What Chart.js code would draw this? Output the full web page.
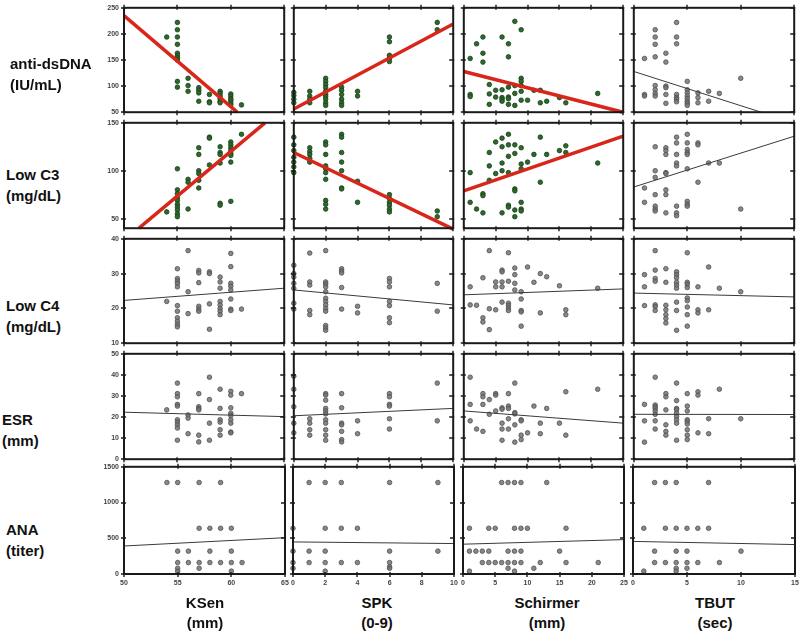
<!DOCTYPE html>
<html>
<head>
<meta charset="utf-8">
<script src="https://cdn.jsdelivr.net/npm/chart.js@4"></script>
<style>
  body { margin: 0; background: #fff; }
  #wrap { position: relative; width: 800px; height: 635px; font-family: "Liberation Sans", Arial, sans-serif; }
  #wrap canvas { position: absolute; background: transparent; }
  .lab { position: absolute; font-weight: bold; font-size: 15px; line-height: 21px; color: #111; white-space: nowrap; }
  .ctitle { text-align: center; width: 160px; line-height: 20px; }
</style>
</head>
<body>
<div id="wrap"></div>
<script>
// axis ticks
const ksenTicks = [50, 55, 60, 65];
const spkTicks = [0, 2, 4, 6, 8, 10];
const schirmerTicks = [0, 5, 10, 15, 20, 25];
const tbutTicks = [0, 5, 10, 15];
const dsdnaTicks = [50, 100, 150, 200, 250];
const c3Ticks = [50, 100, 150];
const c4Ticks = [10, 20, 30, 40];
const esrTicks = [0, 10, 20, 30, 40, 50];
const anaTicks = [0, 500, 1000, 1500];

// anti-dsDNA row
const dsdnaKsen = [[54,194],[55,222],[55,208],[55,194],[55,180],[55,163],[55,158],[55,154],[55,150],[55,109],[55,98],[56,115],[56,101],[56,90],[57,97],[57,92],[57,87],[57,71],[58,84],[58,70],[58,68],[59,90],[59,86],[59,81],[59,76],[59,71],[59,68],[60,85],[60,81],[60,76],[60,73],[60,68],[60,64],[61,64]];
const dsdnaKsenFit = [[50,235],[60.6,50]];
const dsdnaSpk = [[0,88],[0,82],[0,75],[0,68],[1,90],[1,81],[1,75],[1,68],[2,115],[2,109],[2,103],[2,97],[2,90],[2,84],[2,80],[2,75],[2,68],[2,63],[3,98],[3,92],[3,84],[3,75],[3,68],[3,63],[4,90],[4,81],[6,194],[6,185],[6,159],[6,153],[6,147],[9,222],[9,208]];
const dsdnaSpkFit = [[0,56],[10,219]];
const dsdnaSchirmer = [[1,153],[1,84],[1,80],[2,181],[3,194],[3,163],[3,146],[4,103],[4,85],[4,65],[5,92],[5,79],[6,194],[6,93],[6,78],[6,75],[6,71],[7,181],[7,156],[7,98],[7,79],[7,76],[7,65],[8,224],[8,101],[8,86],[8,63],[9,208],[9,115],[9,109],[9,101],[9,90],[9,73],[10,73],[11,92],[12,92],[12,68],[13,71],[15,78],[16,68],[21,86]];
const dsdnaSchirmerFit = [[0,128],[25,50]];
const dsdnaTbut = [[1,153],[1,84],[1,81],[2,208],[2,194],[2,180],[2,156],[2,101],[2,93],[2,86],[2,81],[3,163],[3,146],[3,100],[3,97],[3,84],[3,67],[4,222],[4,194],[4,181],[4,84],[4,78],[4,75],[4,70],[5,109],[5,93],[5,87],[5,81],[5,76],[5,71],[5,67],[5,63],[6,87],[6,78],[6,68],[7,90],[7,71],[8,86],[10,115]];
const dsdnaTbutFit = [[0,128],[11.9,50]];

// Low C3 row
const c3Ksen = [[54,57],[55,102],[55,80],[55,76],[55,72],[55,69],[55,65],[55,62],[55,59],[55,55],[55,52],[56,91],[56,88],[56,60],[57,124],[57,117],[57,100],[57,97],[57,90],[57,82],[58,135],[58,134],[58,106],[59,125],[59,119],[59,117],[59,108],[59,66],[59,64],[60,130],[60,127],[60,124],[60,121],[60,118],[60,116],[60,109],[60,68],[61,138]];
const c3KsenFit = [[51.4,40],[63.2,150]];
const c3Spk = [[0,135],[0,127],[0,121],[0,114],[0,109],[0,104],[0,98],[1,124],[1,120],[1,117],[1,113],[1,109],[2,130],[2,127],[2,117],[2,105],[2,102],[2,98],[2,91],[2,69],[2,65],[2,60],[3,138],[3,135],[3,119],[3,109],[3,100],[3,82],[3,81],[4,89],[4,67],[6,75],[6,71],[6,67],[6,64],[6,60],[6,57],[9,58],[9,52]];
const c3SpkFit = [[0,119],[10,39]];
const c3Schirmer = [[1,98],[1,67],[2,60],[3,76],[3,74],[3,56],[4,119],[4,105],[4,90],[5,130],[5,97],[6,134],[6,125],[6,108],[6,100],[6,56],[7,138],[7,127],[7,115],[7,98],[7,64],[7,62],[8,127],[8,118],[8,81],[8,79],[8,59],[8,52],[9,124],[9,107],[9,102],[9,67],[9,60],[9,58],[10,109],[11,117],[12,135],[12,88],[13,117],[15,121],[16,126],[16,119],[21,108]];
const c3SchirmerFit = [[0,79],[25,136]];
const c3Tbut = [[1,82],[1,67],[2,125],[2,100],[2,93],[2,75],[2,63],[2,60],[2,58],[3,124],[3,121],[3,117],[3,98],[3,97],[3,80],[3,75],[3,56],[4,135],[4,129],[4,117],[4,108],[4,105],[4,63],[4,56],[4,53],[5,138],[5,129],[5,122],[5,119],[5,117],[5,102],[5,68],[5,65],[5,63],[6,129],[6,127],[6,88],[7,108],[8,108],[10,60]];
const c3TbutFit = [[0,83],[15,136]];

// Low C4 row
const c4Ksen = [[54,22],[55,31.4],[55,28.6],[55,27.9],[55,27.2],[55,26.2],[55,20.8],[55,19.2],[55,17.3],[55,16.3],[55,15.4],[55,14.7],[56,36.6],[56,24.8],[56,18.5],[57,30.9],[57,30.2],[57,27.4],[57,20.6],[57,19.8],[57,19.2],[58,30.5],[58,30],[58,21.3],[58,14],[59,29],[59,27.6],[59,25.8],[59,22],[59,21],[59,20],[59,19.2],[59,18.2],[60,35.8],[60,32],[60,27.2],[60,26.4],[60,25.3],[60,22.7],[60,19.8],[60,19.4],[61,19.8]];
const c4KsenFit = [[50,22.3],[65,25.8]];
const c4Spk = [[0,32.4],[0,30],[0,29],[0,27.2],[0,25.8],[0,21.5],[0,19.8],[1,35.9],[1,27.6],[1,26.7],[1,19.4],[1,18.2],[2,36.6],[2,27.6],[2,27],[2,26.2],[2,24.8],[2,22.9],[2,22],[2,21],[2,20],[2,19.2],[2,15.1],[2,14.4],[2,13.7],[3,31.4],[3,30.8],[3,30.2],[3,26],[3,19.8],[4,20.6],[4,18.7],[6,28.6],[6,27.6],[6,26.2],[6,22],[6,20.8],[6,17.3],[6,15.9],[9,27.2],[9,19.2]];
const c4SpkFit = [[0,25.3],[10,21]];
const c4Schirmer = [[1,26.2],[1,21],[2,20.9],[3,28.8],[3,17.3],[3,16.1],[4,36.6],[4,19.9],[4,13.9],[5,27.6],[5,26.2],[5,19.6],[6,31],[6,30.5],[6,27.6],[6,26.2],[6,21.8],[7,36],[7,27.8],[7,21.5],[7,20.9],[7,20.1],[7,19.4],[8,31.6],[8,29.7],[8,27.2],[8,25.3],[9,24.8],[9,22.7],[9,19.4],[9,19],[9,14.9],[10,31.9],[11,27.5],[12,30],[12,18.7],[13,29.1],[15,26.5],[16,19.6],[16,18.2],[21,25.8]];
const c4SchirmerFit = [[0,23.9],[25,25.6]];
const c4Tbut = [[1,29.7],[1,26.2],[1,20.8],[2,36.6],[2,31],[2,28.6],[2,27.8],[2,21],[2,20.5],[2,19.4],[3,31.4],[3,27.5],[3,20.9],[3,19.6],[3,18.2],[3,17.1],[3,15.8],[4,30.5],[4,29.7],[4,28.8],[4,27.5],[4,26.7],[4,25.8],[4,21.8],[4,19.4],[4,13.7],[5,36],[5,27.5],[5,26.9],[5,26],[5,23],[5,22.2],[5,20.4],[5,18.2],[5,14.9],[6,26.2],[6,19.6],[6,18.7],[7,31.9],[7,19.6],[8,25.8],[10,24.8]];
const c4TbutFit = [[0,24.4],[15,23.3]];

// ESR row
const esrKsen = [[54,23.4],[55,36.1],[55,31.1],[55,29.6],[55,26],[55,25.2],[55,18.7],[55,17.6],[55,16.3],[55,14.8],[55,9],[56,21],[56,19.5],[56,12.1],[57,31.1],[57,24.9],[57,24.1],[57,23.4],[57,11.4],[57,8.2],[58,38.9],[58,28.3],[58,17.1],[58,9],[59,33.2],[59,24.1],[59,18.7],[59,17.6],[59,14],[59,11.4],[60,32.2],[60,30.4],[60,24.4],[60,21.8],[60,20.7],[60,18.7],[60,17.1],[60,12.9],[60,12.5],[61,31.1]];
const esrKsenFit = [[50,22.3],[65,20.2]];
const esrSpk = [[0,39.4],[0,33.2],[0,24.9],[0,17.1],[0,12.5],[1,19.2],[1,17.1],[1,14],[1,11.4],[2,31.1],[2,30.4],[2,28],[2,24.1],[2,22.9],[2,21.5],[2,18.7],[2,17.1],[2,14],[2,11.4],[2,9],[3,31.1],[3,24.4],[3,17.1],[3,16.3],[3,13.2],[3,9.3],[3,8.2],[4,18.2],[4,12.1],[6,31.1],[6,29.6],[6,26],[6,25.2],[6,19.2],[6,14.3],[9,36.1],[9,18.2]];
const esrSpkFit = [[0,20.6],[10,24.1]];
const esrSchirmer = [[1,38.9],[1,26],[1,18.2],[2,14.3],[3,31.1],[3,29.6],[3,26],[3,13.2],[4,28.3],[4,21.3],[5,31.1],[5,30.4],[5,22.9],[6,24.4],[6,23.7],[6,17.1],[6,14.3],[6,9],[7,31.1],[7,25.2],[7,24.1],[7,19.2],[7,14.3],[8,36.1],[8,22.1],[8,21.5],[8,16.3],[8,8.1],[9,18.7],[9,18.2],[9,11.4],[9,9.3],[10,12.5],[11,25.2],[12,17.1],[12,12.1],[13,24.1],[15,17.1],[16,32],[16,11.4],[21,33.2]];
const esrSchirmerFit = [[0,22.9],[25,17.1]];
const esrTbut = [[1,26],[1,18.2],[1,8.1],[2,38.9],[2,25.7],[2,24.9],[2,24.1],[2,22.9],[2,21.3],[2,18.2],[2,14.3],[3,31.1],[3,29.6],[3,23.4],[3,16.3],[3,13.2],[3,11.4],[4,36.1],[4,27.8],[4,24.1],[4,23.4],[4,21.8],[4,20.3],[4,18.7],[4,17.1],[4,9],[5,31.1],[5,25.2],[5,22.9],[5,18.7],[5,17.9],[5,16.7],[5,14],[5,11.4],[5,9.3],[6,32],[6,30.4],[6,12.5],[7,19.2],[7,12.1],[8,33.2],[10,19.2]];
const esrTbutFit = [[0,21.3],[15,21.2]];

// ANA row
const anaKsen = [[54,1280],[55,1280],[57,1280],[59,1280],[57,640],[58,640],[59,640],[60,640],[55,320],[56,320],[58,320],[60,320],[55,160],[56,160],[57,160],[58,160],[59,160],[60,160],[61,160],[55,80],[55,40],[57,80],[60,40]];
const anaKsenFit = [[50,392],[65,508]];
const anaSpk = [[0,640],[0,320],[0,160],[0,80],[1,1280],[1,320],[1,160],[2,1280],[2,640],[2,320],[2,160],[2,40],[3,1280],[3,640],[3,160],[4,640],[4,160],[6,1280],[6,320],[6,160],[6,100],[6,80],[9,1280],[9,320]];
const anaSpkFit = [[0,449],[10,426]];
const anaSchirmer = [[1,640],[1,320],[1,40],[2,320],[3,320],[3,160],[4,640],[4,320],[4,160],[5,640],[5,160],[6,1280],[6,160],[7,1280],[7,320],[7,160],[7,80],[8,1280],[8,640],[8,320],[8,160],[8,40],[9,1280],[9,640],[9,320],[9,160],[10,640],[11,80],[12,160],[13,1280],[15,320],[16,640],[16,160],[21,160]];
const anaSchirmerFit = [[0,417],[25,481]];
const anaTbut = [[1,640],[1,40],[2,1280],[2,320],[2,160],[3,1280],[3,640],[3,160],[4,1280],[4,640],[4,320],[4,160],[4,80],[4,40],[5,640],[5,320],[5,160],[5,80],[6,640],[6,160],[7,1280],[7,640],[8,160],[10,320]];
const anaTbutFit = [[0,456],[15,412]];

const rowNames = ['anti-dsDNA<br>(IU/mL)', 'Low C3<br>(mg/dL)', 'Low C4<br>(mg/dL)', 'ESR<br>(mm)', 'ANA<br>(titer)'];
const colNames = ['KSen<br>(mm)', 'SPK<br>(0-9)', 'Schirmer<br>(mm)', 'TBUT<br>(sec)'];

// layout of the grid
const colLeft = [124, 293, 463, 633], colRight = [285, 454, 624, 795];
const rowTop = [7, 122, 238, 353, 466], rowBottom = [113, 229, 344, 460, 574];
const rowLabelPos = [[10, 53], [6, 164], [6, 295], [2, 409], [6, 519]];
const colTitleX = [205, 377, 547, 715];

const cols = [
  { min: 50, max: 65, ticks: ksenTicks },
  { min: 0, max: 10, ticks: spkTicks },
  { min: 0, max: 25, ticks: schirmerTicks },
  { min: 0, max: 15, ticks: tbutTicks }
];
const rows = [
  { min: 50, max: 250, ticks: dsdnaTicks, pts: [dsdnaKsen, dsdnaSpk, dsdnaSchirmer, dsdnaTbut], fits: [dsdnaKsenFit, dsdnaSpkFit, dsdnaSchirmerFit, dsdnaTbutFit] },
  { min: 40, max: 150, ticks: c3Ticks, pts: [c3Ksen, c3Spk, c3Schirmer, c3Tbut], fits: [c3KsenFit, c3SpkFit, c3SchirmerFit, c3TbutFit] },
  { min: 10, max: 40, ticks: c4Ticks, pts: [c4Ksen, c4Spk, c4Schirmer, c4Tbut], fits: [c4KsenFit, c4SpkFit, c4SchirmerFit, c4TbutFit] },
  { min: 0, max: 50, ticks: esrTicks, pts: [esrKsen, esrSpk, esrSchirmer, esrTbut], fits: [esrKsenFit, esrSpkFit, esrSchirmerFit, esrTbutFit] },
  { min: 0, max: 1500, ticks: anaTicks, pts: [anaKsen, anaSpk, anaSchirmer, anaTbut], fits: [anaKsenFit, anaSpkFit, anaSchirmerFit, anaTbutFit] }
];

const wrap = document.getElementById('wrap');

// frame with tick marks on all four sides
const framePlugin = {
  id: 'frame',
  afterDraw(chart) {
    const { ctx, chartArea: a, scales: { x, y } } = chart;
    ctx.save();
    ctx.strokeStyle = '#1a1a1a';
    ctx.lineWidth = 2;
    ctx.strokeRect(a.left, a.top, a.right - a.left, a.bottom - a.top);
    ctx.lineWidth = 1.4;
    ctx.beginPath();
    x.ticks.forEach(t => {
      const px = Math.round(x.getPixelForValue(t.value));
      ctx.moveTo(px, a.top - 3); ctx.lineTo(px, a.top + 2);
      ctx.moveTo(px, a.bottom - 2); ctx.lineTo(px, a.bottom + 3);
    });
    y.ticks.forEach(t => {
      const py = Math.round(y.getPixelForValue(t.value));
      ctx.moveTo(a.left - 3, py); ctx.lineTo(a.left + 2, py);
      ctx.moveTo(a.right - 4, py); ctx.lineTo(a.right + 1, py);
    });
    ctx.stroke();
    ctx.restore();
  }
};

const tickFont = { family: 'Liberation Sans', size: 7, weight: 'bold' };

rows.forEach((row, r) => {
  cols.forEach((col, c) => {
    // room around the plot area: labels only on the outer edges
    const last = r === 4;
    const padL = c === 0 ? 34 : (last ? 7 : 4);
    const padR = last ? 7 : 4;
    const padB = last ? 16 : 4;
    const padT = 4;
    const w = colRight[c] - colLeft[c] + padL + padR;
    const h = rowBottom[r] - rowTop[r] + padT + padB;
    const cv = document.createElement('canvas');
    cv.width = w; cv.height = h;
    cv.style.left = (colLeft[c] - padL) + 'px';
    cv.style.top = (rowTop[r] - padT) + 'px';
    cv.style.width = w + 'px'; cv.style.height = h + 'px';
    wrap.appendChild(cv);

    const green = r < 2 && c < 3;
    const pts = row.pts[c].map(p => ({ x: p[0], y: p[1] }));
    const fit = row.fits[c].map(p => ({ x: p[0], y: p[1] }));

    new Chart(cv.getContext('2d'), {
      type: 'scatter',
      data: {
        datasets: [
          {
            data: fit,
            showLine: true,
            pointRadius: 0,
            borderColor: green ? '#d8261b' : '#3a3a3a',
            borderWidth: green ? 3.5 : 1,
            order: 0,
            clip: false
          },
          {
            data: pts,
            pointRadius: 2.3,
            pointBorderWidth: 0.8,
            backgroundColor: green ? '#2c6a2c' : 'rgba(115,115,115,0.85)',
            borderColor: green ? '#183f18' : '#505050',
            order: 1,
            clip: false
          }
        ]
      },
      options: {
        responsive: false,
        animation: false,
        devicePixelRatio: 1,
        layout: { padding: { top: padT, right: padR, left: 0, bottom: 0 } },
        plugins: { legend: { display: false }, tooltip: { enabled: false } },
        scales: {
          x: {
            type: 'linear', min: col.min, max: col.max,
            grid: { display: false, drawTicks: false },
            border: { display: false },
            afterBuildTicks: s => { s.ticks = col.ticks.map(v => ({ value: v })); },
            afterFit: s => { s.height = padB; s.paddingLeft = 0; s.paddingRight = 0; },
            ticks: { display: last, font: tickFont, color: '#444', padding: 5, maxRotation: 0, autoSkip: false, callback: v => String(v) }
          },
          y: {
            type: 'linear', min: row.min, max: row.max,
            grid: { display: false, drawTicks: false },
            border: { display: false },
            afterBuildTicks: s => { s.ticks = row.ticks.map(v => ({ value: v })); },
            afterFit: s => { s.width = padL; s.paddingTop = 0; s.paddingBottom = 0; },
            ticks: { display: c === 0, font: tickFont, color: '#444', padding: 5, autoSkip: false, callback: v => String(v) }
          }
        }
      },
      plugins: [framePlugin]
    });
  });
});

rowNames.forEach((t, i) => {
  const d = document.createElement('div');
  d.className = 'lab';
  d.innerHTML = t;
  d.style.left = rowLabelPos[i][0] + 'px';
  d.style.top = rowLabelPos[i][1] + 'px';
  wrap.appendChild(d);
});
colNames.forEach((t, i) => {
  const d = document.createElement('div');
  d.className = 'lab ctitle';
  d.innerHTML = t;
  d.style.left = (colTitleX[i] - 80) + 'px';
  d.style.top = '593px';
  wrap.appendChild(d);
});
</script>
</body>
</html>
